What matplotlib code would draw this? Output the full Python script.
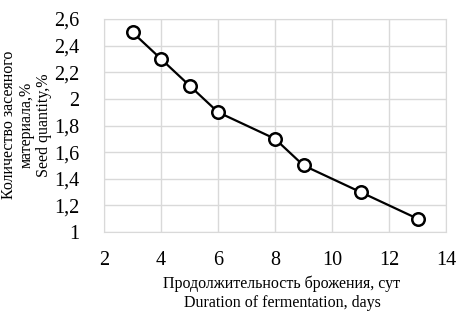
import matplotlib
matplotlib.use("Agg")
import matplotlib.pyplot as plt

days = [3, 4, 5, 6, 8, 9, 11, 13]
seed = [2.5, 2.3, 2.1, 1.9, 1.7, 1.5, 1.3, 1.1]
xticks = [2, 4, 6, 8, 10, 12, 14]
yticks = [1, 1.2, 1.4, 1.6, 1.8, 2, 2.2, 2.4, 2.6]

plt.rcParams['font.family'] = ['Liberation Serif', 'DejaVu Serif']

W, H = 466, 321
fig = plt.figure(figsize=(W/100, H/100), dpi=100)
ax = fig.add_axes([104/W, 1-232/H, (446-104)/W, (232-19)/H])
ax.plot(days, seed, color='black', lw=1.6, marker='o', ms=9, mfc='white', mec='black', mew=1.8, zorder=3)
ax.set_xlim(2, 14)
ax.set_ylim(1, 2.6)
ax.set_xticks(xticks)
ax.set_xticklabels([str(t) for t in xticks])
ax.set_yticks(yticks)
ax.set_yticklabels([f"{t:g}".replace('.', ',') for t in yticks])
ax.grid(True, color='#d9d9d9', lw=1.0)
ax.set_axisbelow(True)
for s in ax.spines.values():
    s.set_color('#d9d9d9')
ax.tick_params(length=0, labelsize=14.5)
ax.tick_params(axis='x', pad=14)
ax.tick_params(axis='y', pad=18)

fs = 11.5
fig.text(282/W, 1-284/H, "Продолжительность брожения, сут", ha='center', va='center', fontsize=fs)
fig.text(282/W, 1-303/H, "Duration of fermentation, days", ha='center', va='center', fontsize=fs)
fig.text(9/W, 1-125/H, "Количество засеяного", ha='center', va='center', rotation=90, fontsize=fs)
fig.text(27/W, 1-125/H, "материала,%", ha='center', va='center', rotation=90, fontsize=fs)
fig.text(44/W, 1-125/H, "Seed quantity,%", ha='center', va='center', rotation=90, fontsize=fs)

fig.savefig("out.png", dpi=100)
